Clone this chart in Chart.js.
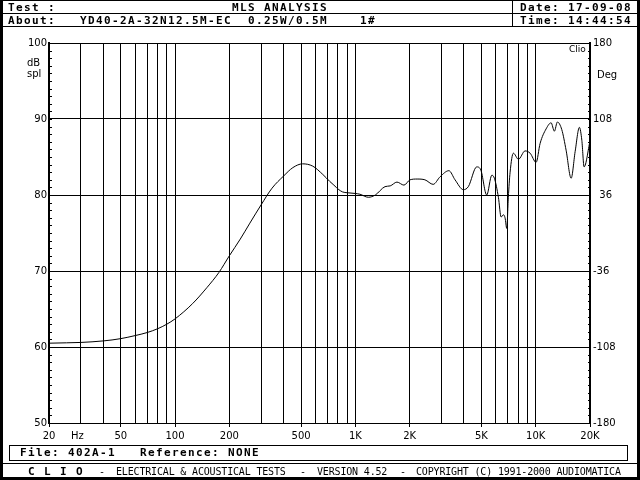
<!DOCTYPE html>
<html lang="en">
<head>
<meta charset="UTF-8">
<title>MLS ANALYSIS</title>
<script src="https://cdn.jsdelivr.net/npm/chart.js@4.4.1/dist/chart.umd.min.js"></script>
<style>
    body { margin: 0; background: #fff; }
    #screen { position: relative; width: 640px; height: 480px; overflow: hidden; background: #fff; }
    #screen canvas { position: absolute; left: 0; top: 0; }
    .bar { position: absolute; background: #000; }
    .t { position: absolute; white-space: pre; color: #000; }
    .mono { font-family: "DejaVu Sans Mono", monospace; font-weight: bold; font-size: 11px; letter-spacing: 1.38px; line-height: 13px; }
    .thin { font-family: "DejaVu Sans Mono", monospace; font-size: 10px; letter-spacing: -0.17px; line-height: 13px; }
    .lab { font-family: "DejaVu Sans", sans-serif; font-size: 10px; line-height: 10px; }
    #filebox { position: absolute; left: 9px; top: 445px; width: 617px; height: 14px; border: 1px solid #000; }
</style>
</head>
<body>
<div id="screen">
    <canvas id="myChart" width="640" height="480"></canvas>

    <!-- cornice -->
    <div class="bar" style="left:0;top:0;width:640px;height:1px"></div>
    <div class="bar" style="left:0;top:0;width:3px;height:480px"></div>
    <div class="bar" style="left:637px;top:0;width:3px;height:480px"></div>
    <div class="bar" style="left:0;top:477px;width:640px;height:3px"></div>

    <!-- intestazione -->
    <div class="bar" style="left:0;top:13px;width:640px;height:1px"></div>
    <div class="bar" style="left:0;top:26px;width:640px;height:1px"></div>
    <div class="bar" style="left:512px;top:0;width:1px;height:27px"></div>
    <div class="t mono" style="left:8px;top:1px">Test :</div>
    <div class="t mono" style="left:232px;top:1px">MLS ANALYSIS</div>
    <div class="t mono" style="left:520px;top:1px">Date: 17-09-08</div>
    <div class="t mono" style="left:8px;top:14px">About:</div>
    <div class="t mono" style="left:80px;top:14px">YD40-2A-32N12.5M-EC</div>
    <div class="t mono" style="left:248px;top:14px">0.25W/0.5M</div>
    <div class="t mono" style="left:360px;top:14px">1#</div>
    <div class="t mono" style="left:520px;top:14px">Time: 14:44:54</div>

    <!-- etichette assi -->
    <div class="t lab" style="left:27px;top:58px">dB</div>
    <div class="t lab" style="left:27px;top:69px">spl</div>
    <div class="t lab" style="left:597px;top:70px">Deg</div>
    <div class="t lab" style="left:569px;top:44px;font-size:9px">Clio</div>
    <div class="t lab" style="left:71px;top:431px">Hz</div>

    <!-- piede -->
    <div id="filebox"></div>
    <div class="t mono" style="left:20px;top:446px">File: 402A-1   Reference: NONE</div>
    <div class="bar" style="left:0;top:463px;width:640px;height:1px"></div>
    <div class="t mono" style="left:28px;top:465px">C L I O</div>
    <div class="t thin" style="left:99px;top:465px">-</div>
    <div class="t thin" style="left:116px;top:465px">ELECTRICAL &amp; ACOUSTICAL TESTS</div>
    <div class="t thin" style="left:300px;top:465px">-</div>
    <div class="t thin" style="left:317px;top:465px">VERSION 4.52</div>
    <div class="t thin" style="left:400px;top:465px">-</div>
    <div class="t thin" style="left:416px;top:465px">COPYRIGHT (C) 1991-2000 AUDIOMATICA</div>
</div>

<script type="text/javascript">
// risposta in frequenza
var freq = [20, 25, 30, 40, 50, 60, 70, 80, 90, 100,
    125, 150, 175, 200, 230, 260, 300, 345, 400, 450,
    510, 580, 660, 720, 760, 810, 850, 900, 1000, 1060, 1180,
    1290, 1460, 1560, 1700, 1860, 2010, 2200, 2430, 2700, 2950,
    3300, 3570, 3970, 4230, 4710, 4960, 5350, 5710, 5900, 6210,
    6430, 6620, 6760, 6910, 7050, 7210, 7520, 8020, 8730, 9310,
    10050, 10580, 11420, 12170, 12690, 13190, 13950, 14740, 15720, 16540,
    17470, 18020, 18550, 20000];
var spl = [60.5, 60.55, 60.6, 60.8, 61.1, 61.5, 61.9, 62.4, 63.0, 63.7,
    65.7, 67.8, 69.8, 72.0, 74.2, 76.3, 78.7, 80.9, 82.5, 83.6,
    84.1, 83.8, 82.7, 81.8, 81.3, 80.7, 80.4, 80.3, 80.2, 80.1, 79.7,
    80.0, 81.1, 81.2, 81.7, 81.3, 82.0, 82.1, 82.0, 81.4, 82.4,
    83.2, 82.0, 80.7, 81.1, 83.7, 83.3, 80.0, 82.6, 82.2, 79.7,
    77.1, 77.4, 77.0, 75.6, 79.7, 83.0, 85.5, 84.7, 85.8, 85.5,
    84.3, 86.8, 88.7, 89.5, 88.4, 89.6, 88.6, 85.9, 82.2, 85.7,
    88.9, 87.2, 83.7, 87.1];

// linee verticali della griglia e relative etichette
var gridFreq = [20, 30, 40, 50, 60, 70, 80, 90, 100,
    200, 300, 400, 500, 600, 700, 800, 900, 1000,
    2000, 3000, 4000, 5000, 6000, 7000, 8000, 9000, 10000, 20000];
var freqLabels = {20: '20', 50: '50', 100: '100', 200: '200', 500: '500',
    1000: '1K', 2000: '2K', 5000: '5K', 10000: '10K', 20000: '20K'};
var phaseLabels = {'-180': '-180', '-108': '-108', '-36': '-36', '36': '\u200736', '108': '108', '180': '180'};

// tacche piccole sugli assi verticali (ogni dB)
var tacche = {
    id: 'tacche',
    afterDraw: function(chart) {
        var ctx = chart.ctx;
        var y = chart.scales.y;
        var a = chart.chartArea;
        ctx.save();
        ctx.fillStyle = '#000';
        for (var v = 51; v < 100; v++) {
            var py = Math.round(y.getPixelForValue(v));
            ctx.fillRect(a.left + 1, py, 2, 1);
            ctx.fillRect(a.right - 2, py, 2, 1);
        }
        ctx.restore();
    }
};

var font = {family: 'DejaVu Sans', size: 10};

var myChart = new Chart(document.getElementById('myChart'), {
    type: 'line',
    data: {
        datasets: [{
            data: freq.map(function(f, i) { return {x: f, y: spl[i]}; }),
            borderColor: '#000',
            borderWidth: 1,
            pointRadius: 0,
            cubicInterpolationMode: 'monotone',
            fill: false
        }]
    },
    options: {
        responsive: false,
        devicePixelRatio: 1,
        animation: false,
        layout: {padding: {top: 43, left: 0, right: 0, bottom: 0}},
        plugins: {legend: {display: false}, tooltip: {enabled: false}},
        scales: {
            x: {
                type: 'logarithmic',
                min: 20,
                max: 20000,
                afterBuildTicks: function(scale) {
                    scale.ticks = gridFreq.map(function(v) { return {value: v}; });
                },
                afterFit: function(scale) { scale.height = 57; },
                border: {color: '#000', width: 1},
                grid: {
                    color: '#000',
                    lineWidth: 1,
                    drawTicks: true,
                    tickLength: 4,
                    tickColor: function(c) { return freqLabels[c.tick.value] ? '#000' : 'rgba(0,0,0,0)'; }
                },
                ticks: {
                    autoSkip: false,
                    maxRotation: 0,
                    padding: 3,
                    color: '#000',
                    font: font,
                    callback: function(v) { return freqLabels[v] || ''; }
                }
            },
            y: {
                position: 'left',
                min: 50,
                max: 100,
                afterFit: function(scale) { scale.width = 49; },
                border: {color: '#000', width: 2},
                grid: {color: '#000', lineWidth: 1, drawTicks: false},
                ticks: {stepSize: 10, padding: 2, color: '#000', font: font}
            },
            y2: {
                position: 'right',
                min: -180,
                max: 180,
                afterFit: function(scale) { scale.width = 50; },
                border: {color: '#000', width: 2},
                grid: {display: false, drawTicks: false},
                ticks: {
                    stepSize: 72,
                    padding: 3,
                    color: '#000',
                    font: font,
                    callback: function(v) { return phaseLabels[String(v)] || ''; }
                }
            }
        }
    },
    plugins: [tacche]
});
</script>
</body>
</html>
